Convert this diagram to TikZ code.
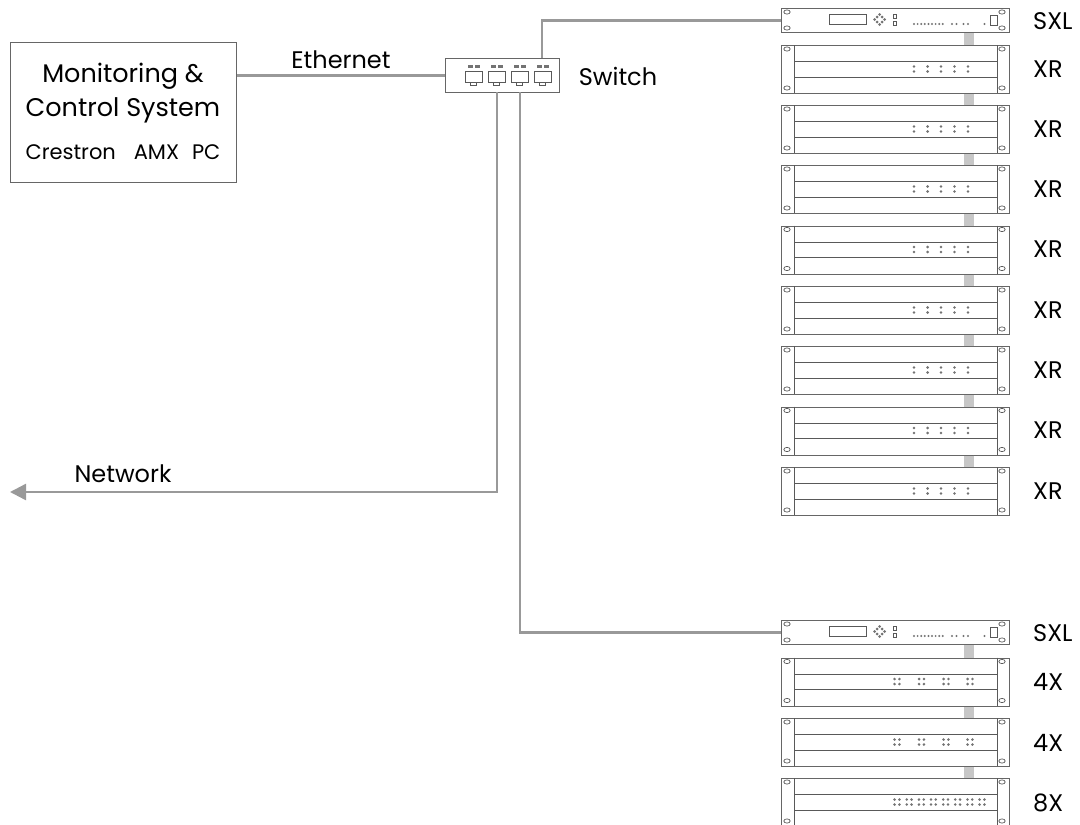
\documentclass[tikz,border=0pt]{standalone}
\usepackage{fontspec}
\setmainfont{Poppins}
\usetikzlibrary{arrows.meta}

\tikzset{
    rack/.style={draw=black!60, line width=1.1pt, fill=white, minimum width=228pt, inner sep=0pt, anchor=north west},
    part/.style={draw=black!65, line width=1pt},
    lamp/.style={fill=black!55},
    wire/.style={draw=black!40, line width=2.4pt},
    rackbar/.style={draw=black!22, line width=10pt},
    rlabel/.style={anchor=west, font=\fontsize{24}{26}\selectfont, inner sep=0pt},
    tlabel/.style={font=\fontsize{24}{26}\selectfont, inner sep=0pt},
    % two-ear chassis drawn from the top left corner of a rack
    chassis/.pic={
        \draw[part] (13,0) -- (13,48) (216,0) -- (216,48);
        \draw[part] (13,16.5) -- (216,16.5) (13,32) -- (216,32);
        \foreach \hx in {6,221} \foreach \hy in {4,43}
            \draw[part, line width=0.7pt] (\hx,\hy) ellipse (3.2 and 2.1);
    },
    xrface/.pic={
        \pic {chassis};
        \foreach \gx in {133,146.6,160,173.4,187}
            \foreach \gy in {21.5,26.5} \fill[lamp] (\gx,\gy) circle (1.4);
    },
    fourface/.pic={
        \pic {chassis};
        \foreach \gx in {116,140.5,165,189}
            \foreach \ox in {-2.4,2.4} \foreach \gy in {21.5,26.5}
                \fill[lamp] (\gx+\ox,\gy) circle (1.4);
    },
    eightface/.pic={
        \pic {chassis};
        \foreach \gx in {116,128.2,140.3,152.4,164.6,176.7,188.9,201}
            \foreach \ox in {-2.4,2.4} \foreach \gy in {21.5,26.5}
                \fill[lamp] (\gx+\ox,\gy) circle (1.4);
    },
    sxlface/.pic={
        \foreach \hx in {6,221} \foreach \hy in {4,20}
            \draw[part, line width=0.7pt] (\hx,\hy) ellipse (3.2 and 2.1);
        \draw[part] (48.5,6.5) rectangle (85,16.5);
        \foreach \ox/\oy in {0/-5,0/5,-5/0,5/0,-2.5/-2.5,2.5/-2.5,-2.5/2.5,2.5/2.5}
            \fill[lamp] (98.5+\ox,11.5+\oy) circle (1.5);
        \draw[part, line width=0.8pt] (112,6.5) rectangle (115.5,10) (112,13.5) rectangle (115.5,17);
        \foreach \gx in {133,136.6,140.2,143.8,147.4,151,154.6,158.2,161.8,
            171,175.5,182.5,187,203.5}
            \fill[lamp] (\gx,16) circle (1.1);
        \draw[part] (209,7) rectangle (216,17);
    },
}

\begin{document}
\begin{tikzpicture}[x=1pt, y=-1pt]
\useasboundingbox (0,0) rectangle (1080,825);
\clip (0,0) rectangle (1080,825);

    \coordinate (barx) at (969,0);

    % control system and switch
    \node[rack, minimum width=226pt, minimum height=140pt] (control) at (10,42) {};
    \node[tlabel, font=\fontsize{25.5}{27}\selectfont] (controla) at (123,76) {Monitoring \&};
    \node[tlabel, font=\fontsize{25.5}{27}\selectfont] (controlb) at (123,110) {Control System};
    \node[tlabel, font=\fontsize{21}{23}\selectfont] (controlc) at (123,152) {Crestron\hspace{0.85em}AMX\hspace{0.62em}PC};

    \node[rack, minimum width=114pt, minimum height=34pt] (switch) at (445,58) {};
    \foreach \px in {465,488,511,534} {
        \draw[part] (\px,71) rectangle ++(17,11);
        \draw[part, line width=0.7pt] (\px+5.5,82) rectangle ++(6,3.5);
        \fill[lamp] (\px+3,64.5) rectangle ++(4.5,3);
        \fill[lamp] (\px+10,64.5) rectangle ++(4.5,3);
    }
    \node[tlabel] (switchlabel) at (618,76) {Switch};
    \node[tlabel] (ethernet) at (341,60) {Ethernet};
    \node[tlabel] (network) at (123,474) {Network};

    % first stack
    \node[rack, minimum height=24pt] (sxla) at (781,8) {};
    \pic at (sxla.north west) {sxlface};
    \node[rlabel] (sxlalabel) at (1033,21) {SXL};
    \foreach \n/\ypos in {1/45,2/105,3/165,4/225.5,5/286,6/346,7/406.5,8/467} {
        \node[rack, minimum height=48pt] (xr\n) at (781,\ypos) {};
        \pic at (xr\n.north west) {xrface};
        \node[rlabel] (xrlabel\n) at (1033,\ypos+24) {XR};
    }
    \foreach \a/\b in {sxla/xr1,xr1/xr2,xr2/xr3,xr3/xr4,xr4/xr5,xr5/xr6,xr6/xr7,xr7/xr8}
        \draw[rackbar] (\a.south -| barx) -- (\b.north -| barx);

    % second stack
    \node[rack, minimum height=24pt] (sxlb) at (781,620) {};
    \pic at (sxlb.north west) {sxlface};
    \node[rlabel] (sxlblabel) at (1033,633) {SXL};
    \node[rack, minimum height=48pt] (foura) at (781,657.5) {};
    \pic at (foura.north west) {fourface};
    \node[rlabel] (fouralabel) at (1033,682) {4X};
    \node[rack, minimum height=48pt] (fourb) at (781,718) {};
    \pic at (fourb.north west) {fourface};
    \node[rlabel] (fourblabel) at (1033,743) {4X};
    \node[rack, minimum height=48pt] (eight) at (781,778) {};
    \pic at (eight.north west) {eightface};
    \node[rlabel] (eightlabel) at (1033,803) {8X};
    \foreach \a/\b in {sxlb/foura,foura/fourb,fourb/eight}
        \draw[rackbar] (\a.south -| barx) -- (\b.north -| barx);

    % wiring
    \coordinate (swtop) at (542,58);
    \coordinate (swnet) at (497,92);
    \coordinate (swlow) at (520,92);
    \coordinate (nettip) at (10,492);
    \draw[wire] (control.east |- switch.west) -- (switch.west);
    \draw[wire] (swtop) |- (sxla.west);
    \draw[wire, -{Triangle[length=16pt, width=16pt]}] (swnet) |- (nettip);
    \draw[wire] (swlow) |- (sxlb.west);
\end{tikzpicture}
\end{document}
